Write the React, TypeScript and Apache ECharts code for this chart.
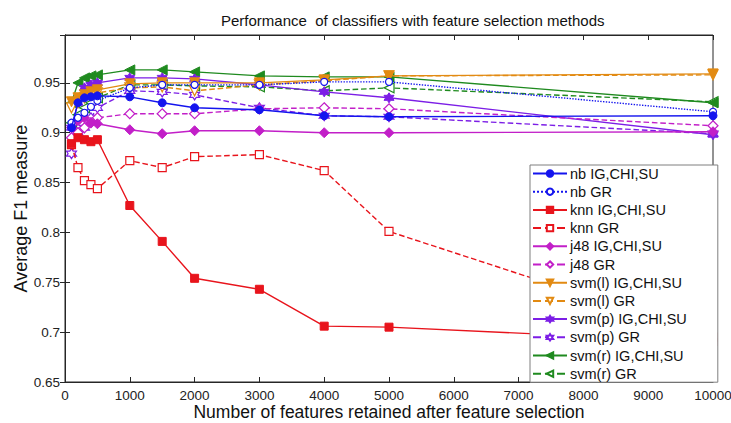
import React, { useEffect, useRef } from 'react';
import * as echarts from 'echarts';

const xValues = [100, 200, 300, 400, 500, 1000, 1500, 2000, 3000, 4000, 5000, 10000];

const nbIG = [0.905, 0.93, 0.935, 0.936, 0.937, 0.936, 0.93, 0.925, 0.923, 0.917, 0.916, 0.917];
const nbGR = [0.91, 0.915, 0.92, 0.926, 0.932, 0.945, 0.948, 0.948, 0.948, 0.951, 0.951, 0.921];
const knnIG = [0.889, 0.895, 0.893, 0.891, 0.893, 0.827, 0.791, 0.754, 0.743, 0.706, 0.705, 0.69];
const knnGR = [0.888, 0.865, 0.852, 0.848, 0.844, 0.872, 0.865, 0.876, 0.878, 0.862, 0.801, 0.695];
const j48IG = [0.905, 0.912, 0.915, 0.91, 0.909, 0.903, 0.899, 0.902, 0.902, 0.9, 0.9, 0.901];
const j48GR = [0.895, 0.9, 0.905, 0.91, 0.915, 0.919, 0.919, 0.919, 0.924, 0.925, 0.924, 0.907];
const svmlIG = [0.931, 0.935, 0.938, 0.941, 0.943, 0.949, 0.95, 0.95, 0.95, 0.953, 0.957, 0.959];
const svmlGR = [0.925, 0.93, 0.935, 0.938, 0.94, 0.945, 0.946, 0.942, 0.948, 0.952, 0.957, 0.958];
const svmpIG = [0.905, 0.93, 0.945, 0.948, 0.95, 0.955, 0.955, 0.954, 0.948, 0.941, 0.935, 0.898];
const svmpGR = [0.879, 0.9, 0.905, 0.915, 0.925, 0.942, 0.941, 0.938, 0.925, 0.917, 0.916, 0.899];
const svmrIG = [0.93, 0.95, 0.955, 0.957, 0.958, 0.963, 0.963, 0.961, 0.957, 0.956, 0.956, 0.93];
const svmrGR = [0.91, 0.918, 0.925, 0.93, 0.935, 0.948, 0.948, 0.947, 0.946, 0.942, 0.945, 0.931];

const seriesNames = [
  'nb IG,CHI,SU', 'nb GR', 'knn IG,CHI,SU', 'knn GR', 'j48 IG,CHI,SU', 'j48 GR',
  'svm(l) IG,CHI,SU', 'svm(l) GR', 'svm(p) IG,CHI,SU', 'svm(p) GR', 'svm(r) IG,CHI,SU', 'svm(r) GR',
];
const seriesValues = [nbIG, nbGR, knnIG, knnGR, j48IG, j48GR, svmlIG, svmlGR, svmpIG, svmpGR, svmrIG, svmrGR];

const BLUE = '#1414ee';
const RED = '#e8141c';
const MAGENTA = '#c21fc8';
const ORANGE = '#e28a12';
const PURPLE = '#7c1ee6';
const GREEN = '#1f8a1f';

const STAR = 'path://M0,-10 L2.9,-5 L8.66,-5 L5.8,0 L8.66,5 L2.9,5 L0,10 L-2.9,5 L-8.66,5 L-5.8,0 L-8.66,-5 L-2.9,-5 Z';
const TRI_DOWN = 'path://M0,0 L10,0 L5,9 Z';
const TRI_LEFT = 'path://M0,5 L9,0 L9,10 Z';

const styles = [
  { color: BLUE, symbol: 'circle', open: false, type: 'solid', size: 8 },
  { color: BLUE, symbol: 'circle', open: true, type: 'dotted', size: 7 },
  { color: RED, symbol: 'rect', open: false, type: 'solid', size: 8 },
  { color: RED, symbol: 'rect', open: true, type: 'dashed', size: 8 },
  { color: MAGENTA, symbol: 'diamond', open: false, type: 'solid', size: 10 },
  { color: MAGENTA, symbol: 'diamond', open: true, type: 'dashed', size: 10 },
  { color: ORANGE, symbol: TRI_DOWN, open: false, type: 'solid', size: 10 },
  { color: ORANGE, symbol: TRI_DOWN, open: true, type: 'dashed', size: 10 },
  { color: PURPLE, symbol: STAR, open: false, type: 'solid', size: 10 },
  { color: PURPLE, symbol: STAR, open: true, type: 'dashed', size: 10 },
  { color: GREEN, symbol: TRI_LEFT, open: false, type: 'solid', size: 10 },
  { color: GREEN, symbol: TRI_LEFT, open: true, type: 'dashed', size: 10 },
];

const FONT = '"Liberation Sans", Arial, sans-serif';

export default function App() {
  const ref = useRef<HTMLDivElement>(null);
  useEffect(() => {
    if (!ref.current) return;
    const chart = echarts.init(ref.current, undefined, { renderer: 'svg' });
    const series = seriesNames.map((name, i) => {
      const s = styles[i];
      return {
        name,
        type: 'line',
        data: xValues.map((x, j) => [x, seriesValues[i][j]]),
        symbol: s.symbol,
        symbolSize: s.size,
        showAllSymbol: true,
        lineStyle: { color: s.color, width: 1.4, type: s.type },
        itemStyle: s.open
          ? { color: '#ffffff', borderColor: s.color, borderWidth: 1.2 }
          : { color: s.color, borderColor: s.color, borderWidth: 1 },
        emphasis: { disabled: true },
        z: 2 + (11 - i),
      };
    });
    const tickStyle = { show: true, inside: true, length: 5, lineStyle: { color: '#262626' } };
    chart.setOption({
      animation: false,
      backgroundColor: '#ffffff',
      textStyle: { fontFamily: FONT },
      title: {
        text: 'Performance  of classifiers with feature selection methods',
        left: 216,
        top: 8,
        textStyle: { fontFamily: FONT, fontSize: 15, fontWeight: 'normal', color: '#111' },
      },
      legend: {
        orient: 'vertical',
        left: 530,
        top: 165,
        padding: [1, 31, 1, 2],
        itemWidth: 34,
        itemHeight: 8,
        itemGap: 3.2,
        backgroundColor: '#ffffff',
        borderColor: '#7f7f7f',
        borderWidth: 1,
        textStyle: { fontFamily: FONT, fontSize: 14.5, lineHeight: 15, color: '#111', padding: [0, 0, 0, -2] },
        data: seriesNames,
        z: 20,
      },
      grid: {
        left: 65, right: 18, top: 35, bottom: 41,
        containLabel: false,
        outerBoundsMode: 'none',
        show: true, borderColor: '#262626', borderWidth: 1, backgroundColor: 'transparent',
      },
      xAxis: [
        {
          type: 'value', min: 0, max: 10000, interval: 1000, position: 'bottom',
          name: 'Number of features retained after feature selection',
          nameLocation: 'middle', nameGap: 21, nameMoveOverlap: false,
          nameTextStyle: { fontFamily: FONT, fontSize: 17.5, lineHeight: 17, color: '#111', verticalAlign: 'top' },
          axisLine: { show: true, lineStyle: { color: '#262626' } },
          axisTick: tickStyle,
          axisLabel: {
            fontFamily: FONT, fontSize: 13.5, lineHeight: 14, color: '#222', margin: 6,
            formatter: (v: number) => String(v),
          },
          splitLine: { show: false },
        },
        {
          type: 'value', min: 0, max: 10000, interval: 1000, position: 'top',
          axisLine: { show: true, lineStyle: { color: '#262626' } },
          axisTick: tickStyle,
          axisLabel: { show: false },
          splitLine: { show: false },
        },
      ],
      yAxis: [
        {
          type: 'value', min: 0.65, max: 0.998, interval: 0.05, position: 'left',
          name: 'Average F1 measure',
          nameLocation: 'middle', nameGap: 35, nameMoveOverlap: false,
          nameTextStyle: { fontFamily: FONT, fontSize: 18, lineHeight: 18, color: '#111' },
          axisLine: { show: true, lineStyle: { color: '#262626' } },
          axisTick: tickStyle,
          axisLabel: {
            fontFamily: FONT, fontSize: 13.5, color: '#222', margin: 5, showMaxLabel: false,
            formatter: (v: number) => String(Number(v.toFixed(2))),
          },
          splitLine: { show: false },
        },
        {
          type: 'value', min: 0.65, max: 0.998, interval: 0.05, position: 'right',
          axisLine: { show: true, lineStyle: { color: '#262626' } },
          axisTick: tickStyle,
          axisLabel: { show: false },
          splitLine: { show: false },
        },
      ],
      series,
    });
    return () => chart.dispose();
  }, []);
  return <div ref={ref} style={{ width: 731, height: 423, position: 'absolute', left: 0, top: 0 }} />;
}
